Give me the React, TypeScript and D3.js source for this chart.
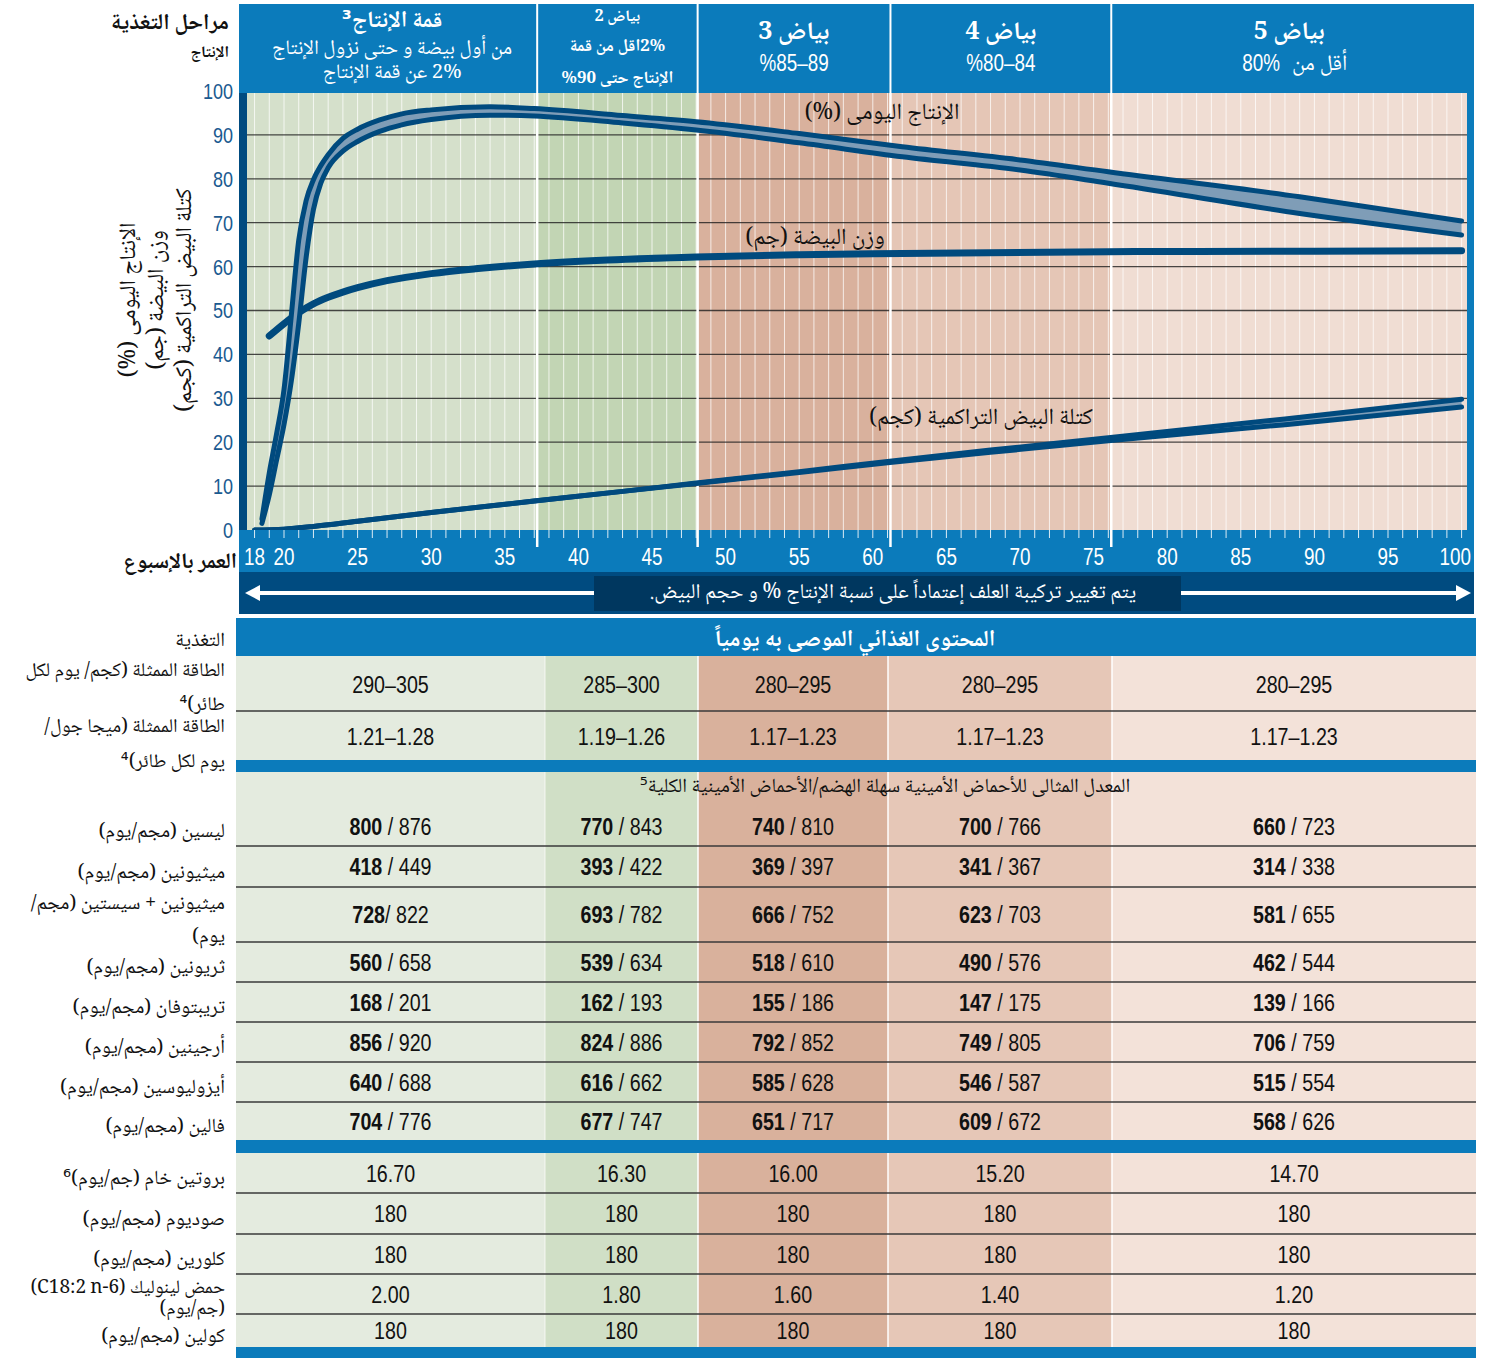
import React from "react";
import * as d3 from "d3";

// ---------------- DATA ----------------
const yTicks = [0, 10, 20, 30, 40, 50, 60, 70, 80, 90, 100];
const xTickWeeks = [18, 20, 25, 30, 35, 40, 45, 50, 55, 60, 65, 70, 75, 80, 85, 90, 95, 100];
const phaseBounds = [37.2, 48.1, 61.2, 76.2];

const prodWeeks = [18.5, 19, 19.5, 20, 20.5, 21, 21.5, 22, 22.5, 23, 24, 25, 26.5, 28, 30, 34, 37, 43, 48, 55, 62, 70, 76, 89, 100];
const prodUpper = [2.5, 13, 22, 32, 49, 66, 75, 79.8, 83, 85.5, 89.2, 91.3, 93.4, 94.8, 95.7, 96.4, 96.0, 94.4, 93.0, 90.3, 87.3, 84.3, 81.6, 75.9, 70.4];
const prodLower = [1.5, 8, 16, 24, 34, 47, 62, 73, 79, 82.5, 86.3, 88.5, 90.8, 92.3, 93.5, 94.5, 94.3, 92.7, 91.1, 88.2, 85.0, 82.0, 79.0, 72.1, 67.2];

const eggWeightWeeks = [19, 20, 21, 22, 23, 24, 25, 27, 30, 33, 37, 42, 48, 55, 62, 76, 90, 100];
const eggWeight = [44.2, 47, 49.5, 51.5, 53, 54.2, 55.2, 56.8, 58.4, 59.5, 60.6, 61.5, 62.2, 62.7, 63.0, 63.4, 63.5, 63.6];

const massWeeks = [18, 20, 22, 25, 30, 37, 43, 48, 55, 61, 68, 76, 88, 100];
const massUpper = [0, 0.2, 0.8, 2.0, 4.0, 6.6, 8.8, 10.7, 13.3, 15.6, 18.2, 21.0, 25.3, 29.8];
const massLower = [0, 0.2, 0.8, 2.0, 4.0, 6.6, 8.8, 10.6, 13.1, 15.3, 17.7, 20.3, 24.0, 28.0];

const phaseTitles = ["قمة الإنتاج³", "بياض 2", "بياض 3", "بياض 4", "بياض 5"];
const phaseSubtitles = [
  ["من أول بيضة و حتى نزول الإنتاج", "2% عن قمة الإنتاج"],
  ["2%اقل من قمة", "الإنتاج حتى 90%"],
  ["%85–89"],
  ["%80–84"],
  ["أقل من", "80%"],
];

const energyKcal = ["290–305", "285–300", "280–295", "280–295", "280–295"];
const energyMJ = ["1.21–1.28", "1.19–1.26", "1.17–1.23", "1.17–1.23", "1.17–1.23"];

const aminoLabels = [
  ["ليسين (مجم/يوم)"],
  ["ميثيونين (مجم/يوم)"],
  ["ميثيونين + سيستين (مجم/", "يوم)"],
  ["ثريونين (مجم/يوم)"],
  ["تريبتوفان (مجم/يوم)"],
  ["أرجينين (مجم/يوم)"],
  ["أيزوليوسين (مجم/يوم)"],
  ["فالين (مجم/يوم)"],
];
const aminoDigestible = [
  [800, 770, 740, 700, 660],
  [418, 393, 369, 341, 314],
  [728, 693, 666, 623, 581],
  [560, 539, 518, 490, 462],
  [168, 162, 155, 147, 139],
  [856, 824, 792, 749, 706],
  [640, 616, 585, 546, 515],
  [704, 677, 651, 609, 568],
];
const aminoTotal = [
  [876, 843, 810, 766, 723],
  [449, 422, 397, 367, 338],
  [822, 782, 752, 703, 655],
  [658, 634, 610, 576, 544],
  [201, 193, 186, 175, 166],
  [920, 886, 852, 805, 759],
  [688, 662, 628, 587, 554],
  [776, 747, 717, 672, 626],
];

const otherLabels = [
  ["بروتين خام (جم/يوم)⁶"],
  ["صوديوم (مجم/يوم)"],
  ["كلورين (مجم/يوم)"],
  ["حمض لينوليك (C18:2 n-6)", "(جم/يوم)"],
  ["كولين (مجم/يوم)"],
];
const crudeProtein = ["16.70", "16.30", "16.00", "15.20", "14.70"];
const sodium = ["180", "180", "180", "180", "180"];
const chlorine = ["180", "180", "180", "180", "180"];
const linoleic = ["2.00", "1.80", "1.60", "1.40", "1.20"];
const choline = ["180", "180", "180", "180", "180"];
const otherValues = [crudeProtein, sodium, chlorine, linoleic, choline];

// ---------------- STYLE / LAYOUT ----------------
const AR = "'Noto Naskh Arabic','Noto Sans Arabic','DejaVu Sans',sans-serif";
const NUM = "'Liberation Sans Narrow','Arial Narrow','Liberation Sans',sans-serif";
const BLUE = "#0b7bbb";
const DARK = "#004b80";
const LINE = "#004a7e";
const phaseColors = ["#d5e0cb", "#c2d5b4", "#d9b19d", "#e5c6b6", "#f0ddd3"];
const tableColors = ["#e4ebdf", "#d0dfc6", "#d9b19c", "#e6c7b7", "#f3e2d9"];
const tableX = [236, 545, 698, 888, 1112, 1476];
const SX = 0.82; // horizontal condensing of numerals

const PL = 247, PR = 1467, PT = 93, PB = 530;

function Num(props: { x: number; y: number; size?: number; fill?: string; anchor?: string; children: React.ReactNode }) {
  const { x, y, size = 24, fill = "#111", anchor = "middle", children } = props;
  return (
    <g transform={`translate(${x},${y}) scale(${SX},1)`}>
      <text x={0} y={0} dy="0.36em" textAnchor={anchor} direction="ltr" fontFamily={NUM} fontSize={size} fill={fill}>
        {children}
      </text>
    </g>
  );
}

function Ar(props: { x: number; y: number; size: number; bold?: boolean; fill?: string; anchor?: "right" | "middle"; children: React.ReactNode; transform?: string }) {
  const { x, y, size, bold, fill = "#111", anchor = "middle", children, transform } = props;
  return (
    <text
      x={x}
      y={y}
      dy="0.35em"
      direction="rtl"
      textAnchor={anchor === "right" ? "start" : "middle"}
      fontFamily={AR}
      fontWeight={bold ? "bold" : "normal"}
      fontSize={size}
      fill={fill}
      transform={transform}
    >
      {children}
    </text>
  );
}

export default function App() {
  const x = d3.scaleLinear().domain([20, 100]).range([284, 1461.6]);
  const y = d3.scaleLinear().domain([0, 100]).range([530, 91]);
  const bx = [PL, ...phaseBounds.map((b) => x(b)), PR];

  const line = d3
    .line<[number, number]>()
    .x((d) => x(d[0]))
    .y((d) => y(d[1]))
    .curve(d3.curveMonotoneX);
  const area = d3
    .area<[number, number, number]>()
    .x((d) => x(d[0]))
    .y0((d) => y(d[2]))
    .y1((d) => y(d[1]))
    .curve(d3.curveMonotoneX);

  const prodU = prodWeeks.map((w, i) => [w, prodUpper[i]] as [number, number]);
  const prodL = prodWeeks.map((w, i) => [w, prodLower[i]] as [number, number]);
  const prodA = prodWeeks.map((w, i) => [w, prodUpper[i], prodLower[i]] as [number, number, number]);
  const eggW = eggWeightWeeks.map((w, i) => [w, eggWeight[i]] as [number, number]);
  const massU = massWeeks.map((w, i) => [w, massUpper[i]] as [number, number]);
  const massL = massWeeks.map((w, i) => [w, massLower[i]] as [number, number]);
  const massA = massWeeks.map((w, i) => [w, massUpper[i], massLower[i]] as [number, number, number]);

  const weekLines = d3.range(18, 101);
  const colCenter = (i: number) => (tableX[i] + tableX[i + 1]) / 2;
  const hc = (i: number) => (bx[i] + bx[i + 1]) / 2;

  const aminoRowY = [806, 846, 887, 942, 982, 1022, 1062, 1102, 1140];
  const otherRowY = [1153, 1193, 1234, 1274, 1314, 1347];

  const rtlLabel = (lines: string[], yc: number, key: string, spacing = 34, size = 20) => {
    const n = lines.length;
    return lines.map((t, j) => (
      <Ar key={key + j} x={225} y={yc + (j - (n - 1) / 2) * spacing} size={size} anchor="right">
        {t}
      </Ar>
    ));
  };

  return (
    <svg width={1487} height={1358} style={{ position: "absolute", left: 0, top: 0, background: "#fff" }}>
      {/* ---- plot backgrounds ---- */}
      {phaseColors.map((c, i) => (
        <rect key={"bg" + i} x={bx[i]} y={PT} width={bx[i + 1] - bx[i]} height={PB - PT} fill={c} />
      ))}
      {weekLines.map((w) => (
        <line key={"wl" + w} x1={x(w)} x2={x(w)} y1={PT} y2={PB} stroke="#fff" strokeOpacity={0.75} strokeWidth={1} />
      ))}
      {yTicks.filter((v) => v > 0 && v < 100).map((v) => (
        <line key={"hg" + v} x1={PL} x2={PR} y1={y(v)} y2={y(v)} stroke="#1e1e1e" strokeOpacity={0.8} strokeWidth={1.3} />
      ))}
      {phaseBounds.map((b) => (
        <line key={"pb" + b} x1={x(b)} x2={x(b)} y1={PT} y2={PB} stroke="#fff" strokeWidth={2.5} />
      ))}

      {/* ---- curves ---- */}
      <path d={area(massA) || ""} fill="#7f9db7" />
      <path d={line(massL) || ""} fill="none" stroke={LINE} strokeWidth={5} strokeLinecap="round" />
      <path d={line(massU) || ""} fill="none" stroke={LINE} strokeWidth={5} strokeLinecap="round" />
      <path d={line(eggW) || ""} fill="none" stroke={LINE} strokeWidth={7} strokeLinecap="round" />
      <path d={area(prodA) || ""} fill="#7f9db7" />
      <path d={line(prodL) || ""} fill="none" stroke={LINE} strokeWidth={5} strokeLinecap="round" />
      <path d={line(prodU) || ""} fill="none" stroke={LINE} strokeWidth={5} strokeLinecap="round" />

      <Ar x={882} y={111} size={23}>الإنتاج اليومى (%)</Ar>
      <Ar x={815} y={236} size={23}>وزن البيضة (جم)</Ar>
      <Ar x={981} y={416} size={23}>كتلة البيض التراكمية (كجم)</Ar>

      {/* ---- frame ---- */}
      <rect x={239} y={PT} width={8} height={PB - PT + 2} fill={DARK} />
      <rect x={PR} y={4} width={7} height={PB - 4} fill={BLUE} />

      {/* ---- header ---- */}
      <rect x={239} y={4} width={1235} height={PT - 4} fill={BLUE} />
      {phaseBounds.map((b) => (
        <line key={"hs" + b} x1={x(b)} x2={x(b)} y1={4} y2={PT} stroke="#fff" strokeWidth={2} />
      ))}
      <Ar x={hc(0)} y={19} size={23} bold fill="#fff">{phaseTitles[0]}</Ar>
      <Ar x={hc(0)} y={47} size={20.5} fill="#fff">{phaseSubtitles[0][0]}</Ar>
      <Ar x={hc(0)} y={71} size={20.5} fill="#fff">{phaseSubtitles[0][1]}</Ar>

      <Ar x={hc(1)} y={15} size={16} bold fill="#fff">{phaseTitles[1]}</Ar>
      <Ar x={hc(1)} y={45} size={17} bold fill="#fff">{phaseSubtitles[1][0]}</Ar>
      <Ar x={hc(1)} y={77} size={17} bold fill="#fff">{phaseSubtitles[1][1]}</Ar>

      {[2, 3, 4].map((i) => (
        <Ar key={"ht" + i} x={hc(i)} y={30} size={25} bold fill="#fff">{phaseTitles[i]}</Ar>
      ))}
      <Num x={hc(2)} y={63} size={23} fill="#fff">{phaseSubtitles[2][0]}</Num>
      <Num x={hc(3)} y={63} size={23} fill="#fff">{phaseSubtitles[3][0]}</Num>
      <Ar x={hc(4) + 58} y={62} size={22} fill="#fff" anchor="right">{phaseSubtitles[4][0]}</Ar>
      <Num x={hc(4) - 28} y={63} size={23} fill="#fff">{phaseSubtitles[4][1]}</Num>

      <Ar x={229} y={21} size={22.5} bold anchor="right">مراحل التغذية</Ar>
      <Ar x={229} y={51} size={16} bold anchor="right">الإنتاج</Ar>

      {/* ---- y axis ---- */}
      {yTicks.map((v) => (
        <Num key={"yt" + v} x={233} y={y(v)} size={22} fill="#1a5a90" anchor="end">{v}</Num>
      ))}
      {["الإنتاج اليومى (%)", "وزن البيضة (جم)", "كتلة البيض التراكمية (كجم)"].map((t, i) => (
        <Ar key={"yl" + i} x={0} y={0} size={23} transform={`translate(${127 + i * 28},300) rotate(-90)`}>{t}</Ar>
      ))}

      {/* ---- x axis band ---- */}
      <rect x={239} y={PB} width={1235} height={42} fill={BLUE} />
      {weekLines.map((w) => (
        <line key={"xt" + w} x1={x(w)} x2={x(w)} y1={PB} y2={538} stroke="#fff" strokeOpacity={0.85} strokeWidth={1} />
      ))}
      {phaseBounds.map((b) => (
        <line key={"xb" + b} x1={x(b)} x2={x(b)} y1={PB} y2={547} stroke="#fff" strokeWidth={2.5} />
      ))}
      {xTickWeeks.map((w) => (
        <Num key={"xl" + w} x={w === 100 ? 1471 : x(w)} y={557} size={23} fill="#fff" anchor={w === 100 ? "end" : "middle"}>{w}</Num>
      ))}
      <Ar x={237} y={560} size={22} bold anchor="right">العمر بالإسبوع</Ar>

      {/* ---- arrow band ---- */}
      <rect x={239} y={572} width={1235} height={42} fill={DARK} />
      <rect x={594} y={576} width={587} height={35} fill="#00375f" />
      <line x1={258} x2={594} y1={593} y2={593} stroke="#fff" strokeWidth={4} />
      <path d="M245,593 L260,585 L260,601 Z" fill="#fff" />
      <line x1={1181} x2={1457} y1={593} y2={593} stroke="#fff" strokeWidth={4} />
      <path d="M1471,593 L1456,585 L1456,601 Z" fill="#fff" />
      <Ar x={893} y={591} size={21} fill="#fff">يتم تغيير تركيبة العلف إعتماداً على نسبة الإنتاج % و حجم البيض.</Ar>

      {/* ---- table ---- */}
      <rect x={236} y={618} width={1240} height={38} fill={BLUE} />
      <Ar x={855} y={638} size={23} bold fill="#fff">المحتوى الغذائي الموصى به يومياً</Ar>
      <Ar x={225} y={639} size={20} anchor="right">التغذية</Ar>

      {[[656, 760], [772, 1140], [1153, 1347]].map(([a, b], k) =>
        tableColors.map((c, i) => (
          <rect key={"tc" + k + i} x={tableX[i]} y={a} width={tableX[i + 1] - tableX[i]} height={b - a} fill={c} />
        ))
      )}
      {[2, 3, 4].map((i) => (
        <line key={"tv" + i} x1={tableX[i]} x2={tableX[i]} y1={656} y2={1347} stroke="#fff" strokeWidth={1.5} />
      ))}
      <line x1={tableX[1]} x2={tableX[1]} y1={656} y2={1347} stroke="#fff" strokeOpacity={0.6} strokeWidth={1.2} />
      <rect x={236} y={760} width={1240} height={12} fill={BLUE} />
      <rect x={236} y={1140} width={1240} height={13} fill={BLUE} />
      <rect x={236} y={1347} width={1240} height={11} fill={BLUE} />

      <line x1={236} x2={1476} y1={711} y2={711} stroke="#3a3a3a" strokeWidth={1.6} />
      {energyKcal.map((v, i) => (
        <Num key={"ek" + i} x={colCenter(i)} y={684}>{v}</Num>
      ))}
      {energyMJ.map((v, i) => (
        <Num key={"em" + i} x={colCenter(i)} y={736}>{v}</Num>
      ))}
      {rtlLabel(["الطاقة الممثلة (كجم/ يوم لكل", "طائر)⁴"], 686, "lk", 34, 19.5)}
      {rtlLabel(["الطاقة الممثلة (ميجا جول/", "يوم لكل طائر)⁴"], 743, "lm", 35, 19.5)}

      <Ar x={885} y={785} size={20}>المعدل المثالى للأحماض الأمينية سهلة الهضم/الأحماض الأمينية الكلية⁵</Ar>
      {aminoLabels.map((lab, r) => {
        const a = aminoRowY[r], b = aminoRowY[r + 1];
        const yc = (a + b) / 2;
        return (
          <g key={"ar" + r}>
            {r < aminoLabels.length - 1 && (
              <line x1={236} x2={1476} y1={b} y2={b} stroke="#3a3a3a" strokeWidth={1.6} />
            )}
            {aminoDigestible[r].map((d, i) => (
              <Num key={"av" + i} x={colCenter(i)} y={yc}>
                <tspan fontWeight="bold">{d}</tspan>
                <tspan>{r === 2 && i === 0 ? "/ " : " / "}{aminoTotal[r][i]}</tspan>
              </Num>
            ))}
            {rtlLabel(lab, yc + 4, "al" + r, 33)}
          </g>
        );
      })}

      {otherLabels.map((lab, r) => {
        const a = otherRowY[r], b = otherRowY[r + 1];
        const yc = (a + b) / 2;
        return (
          <g key={"or" + r}>
            {r < otherLabels.length - 1 && (
              <line x1={236} x2={1476} y1={b} y2={b} stroke="#3a3a3a" strokeWidth={1.6} />
            )}
            {otherValues[r].map((v, i) => (
              <Num key={"ov" + i} x={colCenter(i)} y={yc}>{v}</Num>
            ))}
            {lab.length > 1 ? rtlLabel(lab, yc + 3, "ol" + r, 21, 19) : rtlLabel(lab, yc + 4, "ol" + r)}
          </g>
        );
      })}
    </svg>
  );
}
